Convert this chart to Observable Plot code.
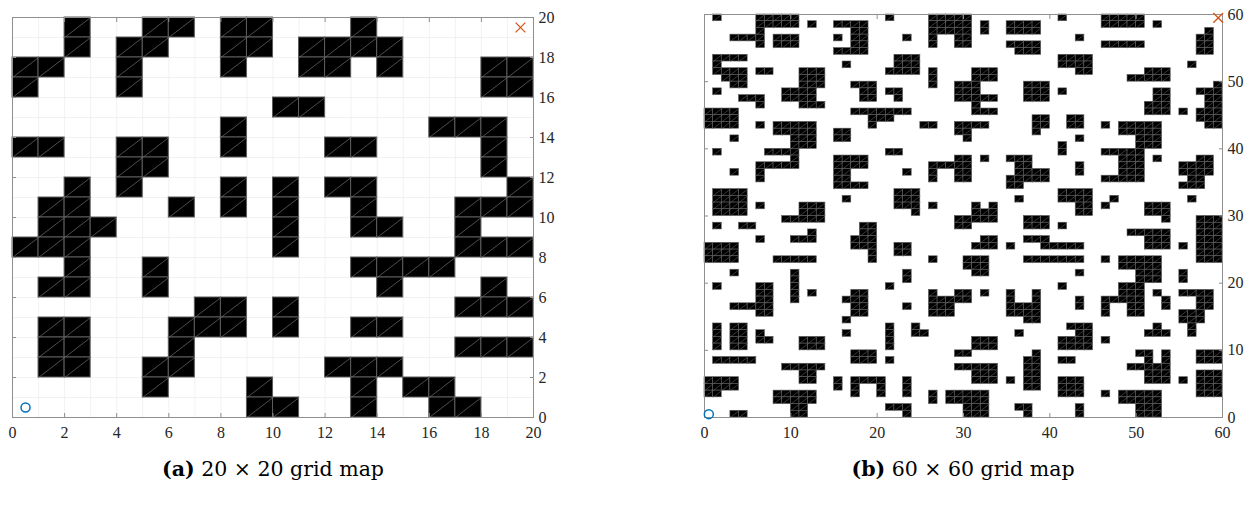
<!DOCTYPE html>
<html><head><meta charset="utf-8">
<script src="https://cdn.jsdelivr.net/npm/d3@7"></script>
<script src="https://cdn.jsdelivr.net/npm/@observablehq/plot@0.6"></script>
<style>
html,body{margin:0;padding:0;background:#fff;}
body{width:1253px;height:512px;position:relative;overflow:hidden;font-family:"Liberation Serif",serif;}
.panel{position:absolute;top:0;}
.cap{position:absolute;top:457px;font-size:20.5px;line-height:24px;color:#000;white-space:nowrap;transform:translateX(-50%);font-family:"DejaVu Serif",serif;}
</style></head><body>
<div id="a" class="panel" style="left:0px"></div>
<div id="b" class="panel" style="left:626px"></div>
<div id="capA" class="cap" style="left:273px"></div>
<div id="capB" class="cap" style="left:963px"></div>
<script>
// ---- data: obstacle columns per row, listed from the top row down ----
const map20Rows = [
  "2,5-6,8-9,13",
  "2,4-5,8-9,11-14",
  "0-1,4,8,11-12,14,18-19",
  "0,4,18-19",
  "10-11",
  "8,16-18",
  "0-1,4-5,8,12-13,18",
  "4-5,18",
  "2,4,8,10,12-13,19",
  "1-2,6,8,10,13,17-19",
  "1-3,10,13-14,17",
  "0-2,10,17-19",
  "2,5,13-16",
  "1-2,5,14,18",
  "7-8,10,17-19",
  "1-2,6-8,10,13-14",
  "1-2,6,17-19",
  "1-2,5-6,12-14",
  "5,9,13,15-16",
  "9-10,13,16-17"
];
const map60Rows = [
  "1,6-10,21,26-30,41,46-50",
  "6-10,12,15-18,26-30,32,35-38,46-50,52",
  "6,17-18,26-30,32,35-38,58",
  "3-6,8-10,15,17-18,23,26,29-30,43,57-58",
  "6,8-10,17-18,26,29-30,35-38,46-50,57-58",
  "15-18,36-38,57-58",
  "1-4,22-24,41-44",
  "1,16,22-24,41-44,56",
  "1-4,6-7,11-13,21-24,26,31-33,43-44,51-53",
  "2-4,11-13,26,31-33,49-53",
  "3-4,11-13,17-19,26,29-31,37-39,59",
  "1,9-12,18-19,21-22,29-31,37-39,41,52-53,57-59",
  "4-6,9-12,18-19,22,29-33,37-39,52-53,58-59",
  "6,11-13,31,51-53,58-59",
  "0-3,17-23,31-33,51-53,55,57-59",
  "0-3,19-21,38-39,42-43,57-59",
  "0-3,6,8-12,19,25-26,29-32,38-39,42-43,46,48-52,58-59",
  "8-12,15-16,29-30,38,48-52",
  "3,10-12,15-16,30,43,50-52",
  "10-12,41,50-52",
  "1,7-10,21-22,41,46-50",
  "10,15-18,29-30,32,35-37,48-50,52,57-58",
  "6-10,15-18,26-30,36-37,43,48-50,55-58",
  "3,6,15-16,23,26,29-30,36-39,43,48-50,55-58",
  "6,15-16,26,29-30,35-39,46-50,56-57",
  "15-18,35-36,55-57",
  "1-4,22-24,41-44",
  "1-4,16,22-24,36,41-44,47,56",
  "1-4,6,11-13,22-24,26,31,33,43-44,46,51-53",
  "1-4,11-13,24,31-33,43-44,51-53",
  "9-13,29-33,37-39,53,57-59",
  "1,4-5,18-19,29-30,37-39,41,57-59",
  "12,18-19,49-53,57-59",
  "6,10-12,17-19,32-33,37-39,51-53,57-59",
  "0-3,17-19,22-23,31-33,35,39-43,51-53,55,57-59",
  "0-3,19,22-23,57-59",
  "0-3,8-12,19,26,30-32,37-43,46,48-52,57-59",
  "30-32,48-52",
  "3,10,23,31-32,43,50-52,55",
  "10,23,50-52,55",
  "1,6-7,10,21,41,48-50",
  "6-7,10,12,17-18,26,29-30,32,35,38,48-50,52,55-58",
  "6-7,10,16-18,26-30,35,38,43,46-50,53,57-58",
  "3-7,17-18,23,26-28,35-38,43,46,49-50,53,57-58",
  "6-7,17-18,26-28,35-38,46,49-50,55-57",
  "16,37-38,55-57",
  "1,3-4,21,24,42-44,52,56",
  "1,3-4,6,16,21,24-25,36,43-44,51-53,56",
  "1,3-4,6-7,11-13,21,31-33,41-44,46",
  "1,3-4,11-13,21,31-33,41-44",
  "17-19,29-30,38,50-51,53,57-59",
  "1-5,17-19,21,37-38,41-42,51,53,57-59",
  "9-13,29-33,37-38,49-53",
  "11-12,31-33,37-38,51-53,57-59",
  "0-3,11-12,15,17-20,23,31-33,35,37-38,41-43,51-53,55,57-59",
  "0-3,15,17,20,23,37-38,41-43,57-59",
  "0-1,8-12,17,20,23,26,28-32,41-43,46,48-52,57-59",
  "8-12,26,28-32,48-52",
  "10-11,21-23,30-32,36-37,43,50-52",
  "3-4,10-11,23,30-32,37,43,50-52"
];
const ticks20 = [0, 2, 4, 6, 8, 10, 12, 14, 16, 18, 20];
const ticks60 = [0, 10, 20, 30, 40, 50, 60];
const start20 = [{x: 0.5, y: 0.5}];
const goal20 = [{x: 19.5, y: 19.5}];
const start60 = [{x: 0.5, y: 0.5}];
const goal60 = [{x: 59.5, y: 59.5}];
const captionLetters = ["(a)", "(b)"];
const captionTexts = ["20 × 20 grid map", "60 × 60 grid map"];

// ---- helpers ----
function parseCols(s) {
  const out = [];
  for (const part of s.split(",")) {
    if (part.includes("-")) {
      const [a, b] = part.split("-").map(Number);
      for (let c = a; c <= b; c++) out.push(c);
    } else out.push(+part);
  }
  return out;
}
function cellsOf(rows) {
  const n = rows.length, out = [];
  rows.forEach((s, i) => parseCols(s).forEach(x => out.push({x, y: n - 1 - i})));
  return out;
}

function gridMap({rows, ticks, start, goal, width, height, mL, mR, mT, mB, grid, cellStroke, diagWidth, dotR}) {
  const n = rows.length;
  const cells = cellsOf(rows);
  const axisColor = "#8f8f8f";
  return Plot.plot({
    width, height,
    marginLeft: mL, marginRight: mR, marginTop: mT, marginBottom: mB,
    style: {fontFamily: "'Liberation Serif', serif", fontSize: "16px", color: "#262626", background: "white", overflow: "visible"},
    x: {domain: [0, n], label: null},
    y: {domain: [0, n], label: null},
    marks: [
      grid ? Plot.gridX(d3.range(0, n + 1), {stroke: "#ededed", strokeOpacity: 1, strokeWidth: 0.7}) : null,
      grid ? Plot.gridY(d3.range(0, n + 1), {stroke: "#ededed", strokeOpacity: 1, strokeWidth: 0.7}) : null,
      Plot.rect(cells, {x1: "x", x2: d => d.x + 1, y1: "y", y2: d => d.y + 1, fill: "black", stroke: "#5c5c5c", strokeWidth: cellStroke}),
      Plot.link(cells, {x1: "x", y1: "y", x2: d => d.x + 1, y2: d => d.y + 1, stroke: "#6e6e6e", strokeWidth: diagWidth}),
      Plot.frame({stroke: axisColor, strokeWidth: 1}),
      Plot.axisX(ticks, {anchor: "bottom", tickSize: -4, tickPadding: 13, stroke: axisColor, fill: "#262626", label: null, tickFormat: d => String(d)}),
      Plot.axisX(ticks, {anchor: "top", tickSize: -4, stroke: axisColor, fill: "none", label: null}),
      Plot.axisY(ticks, {anchor: "right", tickSize: -4, tickPadding: 9, stroke: axisColor, fill: "#262626", label: null, tickFormat: d => String(d)}),
      Plot.axisY(ticks, {anchor: "left", tickSize: -4, stroke: axisColor, fill: "none", label: null}),
      Plot.dot(start, {x: "x", y: "y", r: dotR, stroke: "#0072BD", strokeWidth: 1.5, fill: "none"}),
      Plot.dot(goal, {x: "x", y: "y", r: dotR, symbol: "times", stroke: "#D95319", strokeWidth: 1.3})
    ]
  });
}

document.getElementById("a").append(gridMap({
  rows: map20Rows, ticks: ticks20, start: start20, goal: goal20,
  width: 626, height: 450, mL: 12, mR: 93, mT: 17, mB: 33,
  grid: true, cellStroke: 1, diagWidth: 0.7, dotR: 4.5
}));
document.getElementById("b").append(gridMap({
  rows: map60Rows, ticks: ticks60, start: start60, goal: goal60,
  width: 627, height: 450, mL: 78, mR: 31, mT: 14, mB: 33,
  grid: false, cellStroke: 0.6, diagWidth: 0.5, dotR: 4.5
}));

function caption(el, letter, text) {
  const b = document.createElement("b");
  b.textContent = letter;
  el.append(b, document.createTextNode(" " + text));
}
caption(document.getElementById("capA"), captionLetters[0], captionTexts[0]);
caption(document.getElementById("capB"), captionLetters[1], captionTexts[1]);
</script>
</body></html>
